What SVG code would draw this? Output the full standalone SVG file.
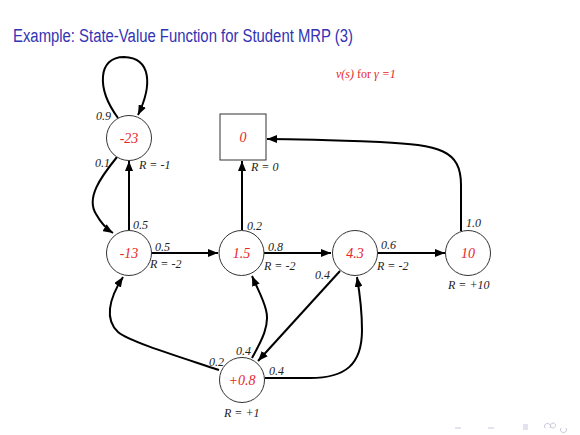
<svg xmlns="http://www.w3.org/2000/svg" width="580" height="435" viewBox="0 0 580 435">
<defs>
<marker id="arr" viewBox="0 0 10 8" refX="10" refY="4" markerWidth="10" markerHeight="8" markerUnits="userSpaceOnUse" orient="auto">
<path d="M0,0 L10,4 L0,8 z" fill="#000"/>
</marker>
<style>
.title{font-family:"Liberation Sans","DejaVu Sans",sans-serif;font-size:18px;fill:#3333b3}
.node circle,.node rect{fill:#fff;stroke:#333;stroke-width:1}
.val{font-family:"Liberation Serif","Times New Roman",serif;font-style:italic;font-size:14px;fill:#e8262a;text-anchor:middle}
.lbl{font-family:"Liberation Serif","Times New Roman",serif;font-style:italic;font-size:12px;fill:#222}
.edge{fill:none;stroke:#000;stroke-width:2;marker-end:url(#arr)}
.note{font-family:"Liberation Serif","Times New Roman",serif;font-size:12px;fill:#e8262a}
.nav{fill:none;stroke:#c8c8dc;stroke-width:1}
</style>
</defs>
<rect width="580" height="435" fill="#fff"/>
<text class="title" x="13" y="42" textLength="340" lengthAdjust="spacingAndGlyphs">Example: State-Value Function for Student MRP (3)</text>
<text class="note" x="336" y="78"><tspan font-style="italic">v(s)</tspan> for <tspan font-style="italic">γ =1</tspan></text>

<g id="connectors">
<path class="edge" d="M118,118 C96,88 98,57 124,57 C152,58 152,86 138,115"/>
<path class="edge" d="M117,157 C100,178 86,198 96,214 C101,223 105,228 113,233"/>
<path class="edge" d="M129,230 L129,161"/>
<path class="edge" d="M151,253 L218,253"/>
<path class="edge" d="M242,230 L242,161"/>
<path class="edge" d="M264,253 L331,253"/>
<path class="edge" d="M378,253 L445,253"/>
<path class="edge" d="M461,231 L461,185 C461,150 440,145 380,142 C330,140 300,139 267,139"/>
<path class="edge" d="M219,370 C180,357 130,342 118,332 C105,320 108,300 123,277"/>
<path class="edge" d="M252,358 C262,340 270,325 266,310 C263,298 258,290 252,276"/>
<path class="edge" d="M340,271 L258,361"/>
<path class="edge" d="M265,378 L310,378 C345,378 362,365 362,330 C362,310 360,295 357,277"/>
</g>

<g id="n-23" class="node"><circle cx="129" cy="138" r="22.5"/><text class="val" x="129" y="143">-23</text></g>
<g id="n0" class="node"><rect x="220" y="114" width="46" height="46"/><text class="val" x="243" y="142">0</text></g>
<g id="n-13" class="node"><circle cx="129" cy="253" r="22.5"/><text class="val" x="129" y="258">-13</text></g>
<g id="n1_5" class="node"><circle cx="241.5" cy="253" r="22.5"/><text class="val" x="241.5" y="258">1.5</text></g>
<g id="n4_3" class="node"><circle cx="355" cy="253" r="22.5"/><text class="val" x="355" y="258">4.3</text></g>
<g id="n10" class="node"><circle cx="468" cy="253" r="22.5"/><text class="val" x="468" y="258">10</text></g>
<g id="n0_8" class="node"><circle cx="242" cy="380" r="22.5"/><text class="val" x="242" y="385">+0.8</text></g>

<g id="labels">
<text class="lbl" x="96" y="120">0.9</text>
<text class="lbl" x="95" y="167">0.1</text>
<text class="lbl" x="139" y="169">R = -1</text>
<text class="lbl" x="251" y="171">R = 0</text>
<text class="lbl" x="133" y="229">0.5</text>
<text class="lbl" x="155" y="251">0.5</text>
<text class="lbl" x="150" y="268">R = -2</text>
<text class="lbl" x="247" y="230">0.2</text>
<text class="lbl" x="268" y="251">0.8</text>
<text class="lbl" x="264" y="270">R = -2</text>
<text class="lbl" x="315" y="279">0.4</text>
<text class="lbl" x="381" y="249">0.6</text>
<text class="lbl" x="377" y="270">R = -2</text>
<text class="lbl" x="466" y="227">1.0</text>
<text class="lbl" x="448" y="289">R = +10</text>
<text class="lbl" x="209" y="366">0.2</text>
<text class="lbl" x="236" y="355">0.4</text>
<text class="lbl" x="269" y="375">0.4</text>
<text class="lbl" x="224" y="417">R = +1</text>
</g>

<g id="nav">
<path class="nav" d="M455,428 h6 M488,428 h6 M523,425 h5 M523,427 h5 M523,429 h5"/>
<path class="nav" d="M545,428 a3,3 0 1 1 5,0 M553,428 a2.5,2.5 0 1 1 0.1,0 M561,428 a3,3 0 1 0 5,0"/>
</g>
</svg>
